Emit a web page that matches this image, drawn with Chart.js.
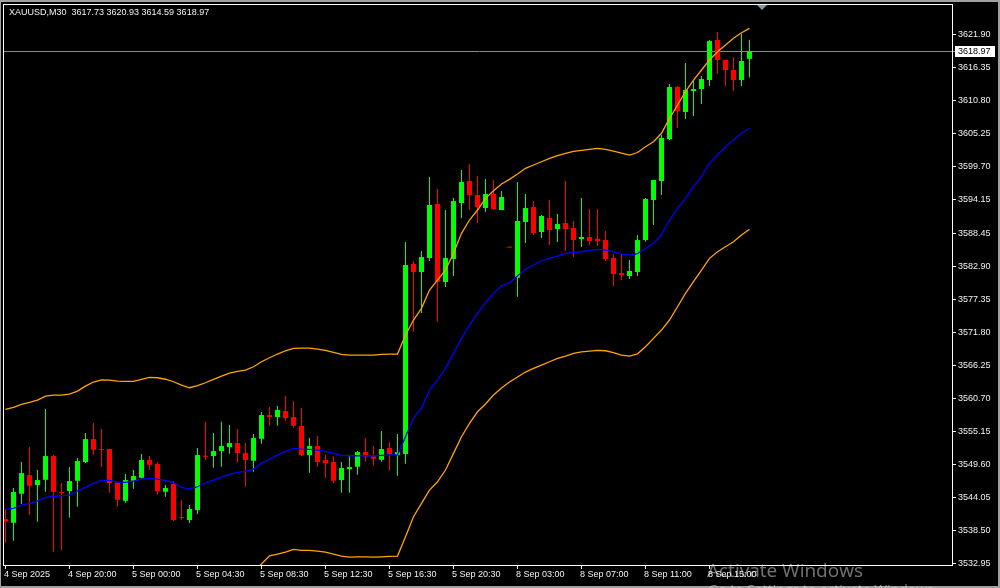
<!DOCTYPE html>
<html>
<head>
<meta charset="utf-8">
<script src="https://cdn.jsdelivr.net/npm/chart.js@4.4.1/dist/chart.umd.min.js"></script>
<style>
    html, body { margin: 0; padding: 0; background: #000; }
    #grafico { display: block; }
</style>
</head>
<body>
<canvas id="grafico" width="1000" height="588"></canvas>
<script>
// XAUUSD M30, velas del 4 Sep 16:00 al 8 Sep 17:30
const simbolo = "XAUUSD,M30";

const aperturas = [
    3540.32, 3539.70, 3544.58, 3547.72, 3546.04, 3546.93, 3550.92, 3544.82, 3545.03, 3546.77,
    3549.91, 3553.78, 3552.05, 3552.10, 3546.50, 3543.40, 3546.77, 3547.27, 3550.25, 3549.58,
    3544.92, 3546.21, 3540.66, 3540.16, 3541.84, 3550.97, 3550.92, 3551.76, 3552.43, 3553.11,
    3551.43, 3550.13, 3553.83, 3557.82, 3557.48, 3558.49, 3557.48, 3555.97, 3551.09, 3552.60,
    3550.25, 3549.91, 3546.88, 3548.73, 3549.12, 3551.59, 3550.87, 3550.30, 3552.27, 3551.09,
    3551.26, 3583.22, 3581.87, 3584.22, 3593.31, 3580.19, 3584.06, 3593.48, 3597.18, 3594.82,
    3592.63, 3594.99, 3592.30, 3586.02, 3580.91, 3590.28, 3592.80, 3588.60, 3590.95, 3589.10,
    3590.11, 3589.27, 3587.42, 3587.76, 3587.47, 3587.25, 3584.22, 3581.70, 3581.20, 3581.87,
    3587.25, 3593.98, 3597.18, 3604.24, 3612.99, 3608.78, 3612.31, 3612.65, 3614.16, 3620.89,
    3617.53, 3615.85, 3614.16, 3617.73
];
const maximos = [
    3541.96, 3545.54, 3549.91, 3552.43, 3548.57, 3558.83, 3551.09, 3546.38, 3549.07, 3550.58,
    3554.79, 3556.47, 3555.46, 3552.15, 3546.60, 3547.89, 3548.57, 3551.26, 3550.92, 3549.91,
    3546.04, 3546.72, 3543.52, 3542.68, 3552.27, 3556.69, 3554.79, 3556.69, 3556.13, 3555.46,
    3553.11, 3554.62, 3558.32, 3559.16, 3559.33, 3561.01, 3560.17, 3558.99, 3553.95, 3554.28,
    3551.09, 3550.87, 3549.91, 3551.14, 3551.76, 3553.95, 3552.65, 3555.13, 3553.28, 3554.62,
    3586.92, 3583.72, 3585.40, 3597.85, 3595.83, 3592.30, 3594.32, 3599.03, 3600.04, 3598.02,
    3597.51, 3597.34, 3595.49, 3586.02, 3597.01, 3594.99, 3593.81, 3591.46, 3593.98, 3591.63,
    3597.18, 3590.45, 3594.32, 3592.47, 3592.47, 3588.77, 3584.90, 3584.90, 3583.89, 3588.09,
    3594.32, 3597.34, 3604.91, 3613.49, 3613.15, 3617.02, 3614.00, 3614.84, 3620.89, 3622.24,
    3617.53, 3618.03, 3621.90, 3620.93
];
const minimos = [
    3536.34, 3536.67, 3542.85, 3541.00, 3539.87, 3544.92, 3534.82, 3535.11, 3540.54, 3542.39,
    3549.74, 3551.14, 3549.07, 3544.75, 3542.39, 3543.07, 3545.42, 3547.10, 3548.62, 3544.41,
    3544.08, 3539.99, 3540.16, 3539.65, 3541.17, 3550.25, 3548.95, 3549.12, 3551.31, 3549.79,
    3545.76, 3548.28, 3552.99, 3556.02, 3556.02, 3556.86, 3555.68, 3550.92, 3548.11, 3549.12,
    3547.27, 3546.33, 3544.75, 3544.75, 3547.78, 3549.96, 3549.29, 3549.96, 3548.45, 3547.61,
    3549.63, 3571.83, 3574.97, 3583.72, 3573.46, 3579.35, 3581.20, 3590.95, 3592.30, 3590.11,
    3591.96, 3592.30, 3592.30, 3585.97, 3577.72, 3586.75, 3588.09, 3587.59, 3586.41, 3586.92,
    3585.40, 3584.39, 3586.07, 3586.41, 3586.24, 3583.72, 3579.51, 3580.52, 3580.69, 3581.20,
    3586.97, 3589.77, 3594.82, 3604.07, 3606.09, 3607.60, 3608.11, 3610.13, 3613.15, 3615.17,
    3613.15, 3612.31, 3613.15, 3614.59
];
const cierres = [
    3539.87, 3544.87, 3548.06, 3545.93, 3546.88, 3550.92, 3544.92, 3544.70, 3546.72, 3550.08,
    3553.78, 3551.98, 3551.93, 3546.38, 3543.57, 3546.88, 3547.56, 3550.25, 3549.46, 3544.98,
    3545.54, 3540.16, 3540.49, 3542.01, 3551.09, 3550.80, 3551.76, 3552.60, 3553.11, 3551.43,
    3550.25, 3553.95, 3557.82, 3557.48, 3558.66, 3557.31, 3556.02, 3551.09, 3552.60, 3549.91,
    3549.74, 3546.77, 3548.90, 3549.07, 3551.59, 3550.87, 3550.47, 3552.10, 3551.26, 3551.59,
    3583.05, 3581.87, 3584.39, 3593.14, 3580.24, 3584.22, 3593.81, 3597.01, 3594.82, 3592.80,
    3594.99, 3592.47, 3594.48, 3585.97, 3590.45, 3592.63, 3588.43, 3591.29, 3588.93, 3589.94,
    3589.10, 3587.25, 3587.76, 3587.08, 3587.08, 3584.06, 3581.53, 3581.36, 3582.04, 3587.25,
    3594.15, 3597.34, 3604.41, 3612.99, 3608.95, 3612.48, 3612.65, 3614.33, 3620.72, 3617.53,
    3615.85, 3614.16, 3617.36, 3618.97
];

// Bandas de Bollinger
const bandaMedia = [
    3541.96, 3542.12, 3542.68, 3542.96, 3543.35, 3543.97, 3544.14, 3544.24, 3544.36, 3545.08,
    3545.66, 3546.33, 3546.83, 3546.83, 3546.55, 3546.50, 3546.72, 3547.05, 3547.17, 3547.05,
    3546.83, 3546.43, 3545.66, 3545.37, 3545.76, 3546.43, 3546.88, 3547.39, 3547.84, 3548.18,
    3548.35, 3548.73, 3549.69, 3550.42, 3551.09, 3551.71, 3552.22, 3552.10, 3552.05, 3551.93,
    3551.71, 3551.37, 3551.04, 3550.97, 3550.97, 3550.97, 3550.97, 3551.04, 3551.09, 3551.14,
    3554.17, 3557.36, 3558.94, 3562.02, 3563.70, 3565.67, 3568.20, 3570.72, 3572.95, 3574.92,
    3576.71, 3578.29, 3579.57, 3580.07, 3581.20, 3582.32, 3583.05, 3583.77, 3584.17, 3584.56,
    3585.02, 3585.18, 3585.28, 3585.52, 3585.69, 3585.57, 3585.28, 3584.90, 3584.70, 3584.98,
    3585.86, 3586.70, 3588.09, 3590.62, 3592.58, 3594.27, 3596.22, 3597.90, 3600.15, 3601.55,
    3602.95, 3604.07, 3605.20, 3606.04
];
const bandaSuperior = [
    3558.78, 3559.11, 3559.62, 3559.95, 3560.34, 3561.01, 3561.18, 3561.18, 3561.35, 3561.85,
    3562.69, 3563.37, 3563.75, 3563.70, 3563.54, 3563.49, 3563.49, 3563.82, 3564.16, 3564.09,
    3563.84, 3563.42, 3562.86, 3562.41, 3562.75, 3563.25, 3563.82, 3564.38, 3564.88, 3565.17,
    3565.39, 3565.94, 3566.78, 3567.45, 3568.08, 3568.63, 3569.04, 3569.09, 3569.09, 3568.92,
    3568.70, 3568.36, 3568.03, 3567.91, 3567.91, 3567.91, 3567.91, 3568.03, 3568.08, 3568.08,
    3571.27, 3573.80, 3575.76, 3578.84, 3580.52, 3582.21, 3585.02, 3588.38, 3590.62, 3592.30,
    3594.27, 3595.54, 3596.67, 3597.46, 3598.35, 3599.31, 3599.87, 3600.42, 3600.99, 3601.43,
    3601.84, 3602.17, 3602.34, 3602.51, 3602.68, 3602.51, 3602.22, 3601.85, 3601.55, 3601.97,
    3602.95, 3603.79, 3605.20, 3607.72, 3609.96, 3612.20, 3614.16, 3615.85, 3617.53, 3618.92,
    3620.05, 3621.18, 3622.12, 3622.86
];
// la banda inferior queda por debajo del gráfico al principio
const bandaInferior = [
    null, null, null, null, null, null, null, null, null, null,
    null, null, null, null, null, null, null, null, null, null,
    null, null, null, null, null, null, null, null, null, null,
    null, 3531.58, 3532.76, 3534.15, 3534.44, 3534.77, 3535.23, 3535.06, 3535.06, 3534.94,
    3534.77, 3534.44, 3534.10, 3533.93, 3533.98, 3533.98, 3533.93, 3533.98, 3534.05, 3534.10,
    3537.35, 3540.71, 3542.96, 3545.20, 3546.60, 3548.57, 3551.37, 3554.17, 3556.42, 3558.37,
    3559.67, 3561.18, 3562.36, 3563.37, 3564.21, 3565.05, 3565.67, 3566.23, 3566.78, 3567.35,
    3567.74, 3568.20, 3568.46, 3568.58, 3568.70, 3568.63, 3568.30, 3567.91, 3567.74, 3568.11,
    3569.31, 3570.72, 3572.11, 3573.80, 3576.03, 3578.29, 3580.24, 3582.21, 3584.17, 3585.28,
    3586.13, 3586.97, 3588.09, 3589.05
];

const preciosEje = [
    3621.90, 3616.35, 3610.80, 3605.25, 3599.70, 3594.15, 3588.45, 3582.90, 3577.35,
    3571.80, 3566.25, 3560.70, 3555.15, 3549.60, 3544.05, 3538.50, 3532.95
];
const etiquetasTiempo = [
    "4 Sep 2025", "4 Sep 20:00", "5 Sep 00:00", "5 Sep 04:30", "5 Sep 08:30", "5 Sep 12:30",
    "5 Sep 16:30", "5 Sep 20:30", "8 Sep 03:00", "8 Sep 07:00", "8 Sep 11:00", "8 Sep 15:00"
];
const barrasTiempo = [0, 8, 16, 24, 32, 40, 48, 56, 64, 72, 80, 88];

const VERDE = "#00ff00";
const ROJO = "#ff0000";
const FUENTE = '9px "Liberation Sans", Arial, sans-serif';

const indices = aperturas.map((_, i) => i);
const colorVela = i => cierres[i] >= aperturas[i] ? VERDE : ROJO;
const ultimo = indices.length - 1;

const decorado = {
    id: "decorado",
    beforeDraw(chart) {
        const ctx = chart.ctx;
        ctx.save();
        ctx.fillStyle = "#000";
        ctx.fillRect(0, 0, chart.width, chart.height);
        ctx.restore();
    },
    beforeDatasetsDraw(chart) {
        const { ctx, chartArea, scales } = chart;
        const yp = Math.round(scales.y.getPixelForValue(cierres[ultimo])) + 0.5;
        ctx.save();
        ctx.strokeStyle = "#8a8a8a";
        ctx.lineWidth = 1;
        ctx.beginPath();
        ctx.moveTo(chartArea.left, yp);
        ctx.lineTo(chartArea.right + 3, yp);
        ctx.stroke();
        ctx.restore();
    },
    afterDraw(chart) {
        const { ctx, chartArea, scales } = chart;
        const { left, right, top, bottom } = chartArea;
        ctx.save();

        // marco de la ventana
        ctx.fillStyle = "#a0a0a0";
        ctx.fillRect(0, 0, chart.width, 2);
        ctx.fillRect(0, 0, 1, chart.height);
        ctx.fillRect(0, chart.height - 2, chart.width, 2);
        ctx.fillRect(chart.width - 2, 0, 2, chart.height);

        // bordes del área y ejes
        ctx.fillStyle = "#ffffff";
        ctx.fillRect(left - 1, top - 1, right - left + 2, 1);
        ctx.fillRect(left - 1, top - 1, 1, bottom - top + 2);
        ctx.fillRect(right, top - 1, 1, bottom - top + 2);
        ctx.fillRect(left - 1, bottom, right - left + 2, 1);

        ctx.font = FUENTE;
        ctx.fillStyle = "#f2f2f2";
        ctx.textBaseline = "middle";
        ctx.textAlign = "left";

        // eje de precios a la derecha
        preciosEje.forEach(p => {
            const yp = Math.round(scales.y.getPixelForValue(p));
            ctx.fillRect(right + 1, yp, 3, 1);
            ctx.fillText(p.toFixed(2), right + 6, yp + 0.5);
        });

        // eje de tiempo
        etiquetasTiempo.forEach((txt, k) => {
            const xp = Math.floor(scales.x.getPixelForValue(barrasTiempo[k]));
            ctx.fillRect(xp, bottom + 1, 1, 3);
            ctx.fillText(txt, xp - 1, bottom + 10);
        });

        // cabecera
        const cab = simbolo + "  " + [aperturas[ultimo], maximos[ultimo], minimos[ultimo], cierres[ultimo]]
            .map(v => v.toFixed(2)).join(" ");
        ctx.fillText(cab, 9, 13);

        // etiqueta del precio actual
        const yc = Math.round(scales.y.getPixelForValue(cierres[ultimo]));
        ctx.fillStyle = "#ffffff";
        ctx.fillRect(right + 3, yc - 5, 40, 11);
        ctx.fillStyle = "#000000";
        ctx.fillText(cierres[ultimo].toFixed(2), right + 6, yc + 0.5);

        // marca de desplazamiento del gráfico
        ctx.fillStyle = "#8595a5";
        ctx.beginPath();
        ctx.moveTo(757, top);
        ctx.lineTo(767, top);
        ctx.lineTo(762, top + 5);
        ctx.closePath();
        ctx.fill();

        // marca de agua de Windows
        ctx.fillStyle = "rgba(255,255,255,0.45)";
        ctx.textBaseline = "alphabetic";
        ctx.font = '19px "Open Sans", sans-serif';
        ctx.fillText("Activate Windows", 707, 577);
        ctx.font = '14px "Open Sans", sans-serif';
        ctx.fillText("Go to Settings to activate Windows.", 708, 595);

        ctx.restore();
    }
};

new Chart(document.getElementById("grafico"), {
    type: "bar",
    data: {
        datasets: [
            {
                type: "line",
                label: "Banda superior",
                data: indices.map(i => ({ x: i, y: bandaSuperior[i] })),
                borderColor: "#ffa500",
                borderWidth: 1.3,
                pointRadius: 0,
                tension: 0,
                order: 0
            },
            {
                type: "line",
                label: "Media",
                data: indices.map(i => ({ x: i, y: bandaMedia[i] })),
                borderColor: "#0000ff",
                borderWidth: 1.3,
                pointRadius: 0,
                tension: 0,
                order: 0
            },
            {
                type: "line",
                label: "Banda inferior",
                data: indices.map(i => ({ x: i, y: bandaInferior[i] })),
                borderColor: "#ffa500",
                borderWidth: 1.3,
                pointRadius: 0,
                tension: 0,
                spanGaps: false,
                order: 0
            },
            {
                label: "Cuerpos",
                data: indices.map(i => ({ x: i, y: [aperturas[i], cierres[i]] })),
                backgroundColor: ctx => colorVela(ctx.dataIndex),
                barThickness: 5,
                minBarLength: 1,
                inflateAmount: 0,
                borderWidth: 0,
                grouped: false,
                order: 1
            },
            {
                label: "Mechas",
                data: indices.map(i => ({ x: i, y: [minimos[i], maximos[i]] })),
                backgroundColor: ctx => colorVela(ctx.dataIndex),
                barThickness: 1,
                inflateAmount: 0,
                borderWidth: 0,
                grouped: false,
                order: 2
            }
        ]
    },
    options: {
        responsive: false,
        devicePixelRatio: 1,
        animation: false,
        events: [],
        layout: {
            padding: { left: 4, top: 5, right: 48, bottom: 23 }
        },
        plugins: {
            legend: { display: false },
            tooltip: { enabled: false },
            title: { display: false }
        },
        scales: {
            x: {
                type: "linear",
                display: false,
                offset: false,
                min: -0.1875,
                max: 118.3125
            },
            y: {
                type: "linear",
                display: false,
                min: 3532.60,
                max: 3626.78
            }
        }
    },
    plugins: [decorado]
});
</script>
</body>
</html>
